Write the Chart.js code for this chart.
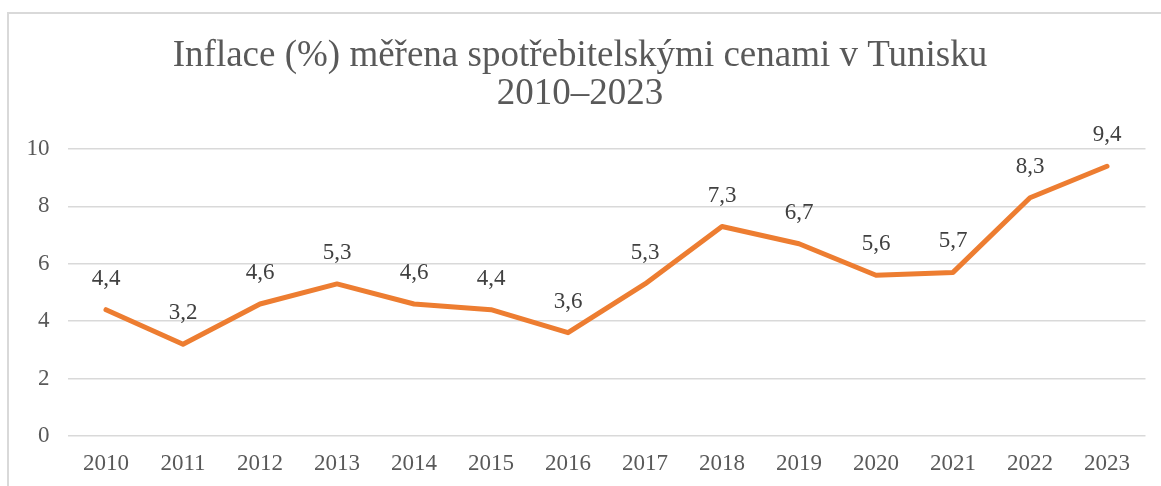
<!DOCTYPE html>
<html>
<head>
<meta charset="utf-8">
<script src="https://cdn.jsdelivr.net/npm/chart.js@4.4.0/dist/chart.umd.min.js"></script>
<style>
  html, body { margin: 0; padding: 0; background: #fff; overflow: hidden; }
  #wrap { position: relative; width: 1161px; height: 486px; }
</style>
</head>
<body>
<div id="wrap"><canvas id="chart" width="1161" height="486"></canvas></div>
<script>
// ── DATA ─────────────────────────────────────────────
const years = ['2010', '2011', '2012', '2013', '2014', '2015', '2016',
               '2017', '2018', '2019', '2020', '2021', '2022', '2023'];
const inflation = [4.4, 3.2, 4.6, 5.3, 4.6, 4.4, 3.6, 5.3, 7.3, 6.7, 5.6, 5.7, 8.3, 9.4];
const yTicks = [0, 2, 4, 6, 8, 10];
const titleLines = ['Inflace (%) měřena spotřebitelskými cenami v Tunisku', '2010–2023'];

const SERIF = '"Liberation Serif", "Times New Roman", serif';

// frame + title, drawn by hand so the plot area stays where we want it
const framePlugin = {
  id: 'frame',
  beforeDraw(chart) {
    const ctx = chart.ctx;
    ctx.save();
    ctx.fillStyle = '#fff';
    ctx.fillRect(0, 0, chart.width, chart.height);
    ctx.strokeStyle = '#d9d9d9';
    ctx.lineWidth = 2;
    ctx.strokeRect(8, 13, 1300, 600);
    ctx.fillStyle = '#595959';
    ctx.font = '37px ' + SERIF;
    ctx.textAlign = 'center';
    ctx.textBaseline = 'middle';
    ctx.fillText(titleLines[0], 580, 56);
    ctx.fillText(titleLines[1], 580, 94);
    ctx.restore();
  }
};

// value labels above each point (comma decimal)
const labelPlugin = {
  id: 'valueLabels',
  afterDatasetsDraw(chart) {
    const ctx = chart.ctx;
    const meta = chart.getDatasetMeta(0);
    ctx.save();
    ctx.fillStyle = '#404040';
    ctx.font = '23px ' + SERIF;
    ctx.textAlign = 'center';
    ctx.textBaseline = 'middle';
    meta.data.forEach((pt, i) => {
      const txt = inflation[i].toFixed(1).replace('.', ',');
      ctx.fillText(txt, pt.x, pt.y - 31);
    });
    ctx.restore();
  }
};

new Chart(document.getElementById('chart'), {
  type: 'line',
  data: {
    labels: years,
    datasets: [{
      data: inflation,
      borderColor: '#ed7d31',
      borderWidth: 5,
      borderCapStyle: 'round',
      borderJoinStyle: 'round',
      pointRadius: 0,
      tension: 0,
      fill: false
    }]
  },
  options: {
    responsive: false,
    animation: false,
    layout: { padding: { top: 149, right: 15.5, bottom: 0, left: 0 } },
    plugins: {
      legend: { display: false },
      title: { display: false },
      tooltip: { enabled: false }
    },
    scales: {
      x: {
        offset: true,
        grid: { display: false, drawTicks: false },
        border: { display: false },
        ticks: { color: '#595959', font: { family: SERIF, size: 23 }, padding: 14, maxRotation: 0 },
        afterFit: s => { s.height = 50; }
      },
      y: {
        min: 0, max: 10,
        afterBuildTicks: s => { s.ticks = yTicks.map(v => ({ value: v })); },
        grid: { color: '#d9d9d9', lineWidth: 1.5, drawTicks: false },
        border: { display: false },
        ticks: { color: '#595959', font: { family: SERIF, size: 23 }, padding: 18 },
        afterFit: s => { s.width = 67.5; }
      }
    }
  },
  plugins: [framePlugin, labelPlugin]
});
</script>
</body>
</html>
